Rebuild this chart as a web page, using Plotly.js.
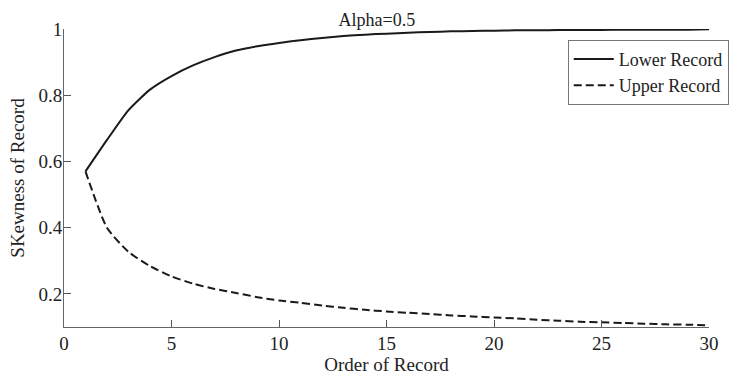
<!DOCTYPE html>
<html>
<head>
<meta charset="utf-8">
<script src="https://cdn.plot.ly/plotly-3.0.1.min.js"></script>
<style>
  html, body { margin: 0; padding: 0; background: #fff; }
  #chart { width: 733px; height: 377px; }
</style>
</head>
<body>
<div id="chart"></div>
<script>
// Record order (x) and skewness of lower / upper records for alpha = 0.5
const recordOrder = [1,2,3,4,5,6,7,8,9,10,11,12,13,14,15,16,17,18,19,20,21,22,23,24,25,26,27,28,29,30];
const lowerSkew = [0.570,0.665,0.755,0.817,0.858,0.890,0.915,0.935,0.948,0.958,
                   0.966,0.973,0.979,0.983,0.986,0.989,0.991,0.993,0.994,0.995,
                   0.996,0.996,0.997,0.997,0.997,0.998,0.998,0.998,0.998,0.999];
const upperSkew = [0.570,0.400,0.327,0.284,0.253,0.231,0.215,0.203,0.190,0.180,
                   0.173,0.165,0.158,0.152,0.147,0.143,0.139,0.135,0.132,0.129,
                   0.126,0.122,0.119,0.116,0.114,0.112,0.110,0.108,0.107,0.105];
const xTicks = [0,5,10,15,20,25,30];
const yTicks = [0.2,0.4,0.6,0.8,1];
const yTickText = ['0.2','0.4','0.6','0.8','1'];

const serif = 'Liberation Serif, serif';

const traces = [
  {
    x: recordOrder, y: lowerSkew, name: 'Lower Record',
    type: 'scatter', mode: 'lines',
    line: { color: '#1a1a1a', width: 2, shape: 'spline', smoothing: 0.6 }
  },
  {
    x: recordOrder, y: upperSkew, name: 'Upper Record',
    type: 'scatter', mode: 'lines',
    line: { color: '#1a1a1a', width: 2, dash: '8px,4px', shape: 'spline', smoothing: 0.6 }
  }
];

const axisCommon = {
  showline: true, linecolor: '#666', linewidth: 1,
  ticks: 'inside', ticklen: 7, tickcolor: '#555', tickwidth: 1,
  showgrid: false, zeroline: false, mirror: false,
  tickfont: { family: serif, size: 19, color: '#222' }
};

const layout = {
  width: 733, height: 377,
  margin: { l: 63.5, r: 23.7, t: 29.3, b: 50, autoexpand: false },
  paper_bgcolor: '#fff', plot_bgcolor: '#fff',
  font: { family: serif, color: '#222' },
  title: {
    text: 'Alpha=0.5',
    font: { family: serif, size: 18, color: '#222' },
    xref: 'paper', x: 0.485, xanchor: 'center',
    yref: 'container', y: 0.947, yanchor: 'middle'
  },
  xaxis: Object.assign({}, axisCommon, {
    range: [0, 30], tickvals: xTicks,
    ticklabelstandoff: -1,
    title: { text: 'Order of Record', font: { family: serif, size: 19, color: '#222' }, standoff: 2 }
  }),
  yaxis: Object.assign({}, axisCommon, {
    range: [0.1, 1], tickvals: yTicks, ticktext: yTickText,
    ticklabelstandoff: -3,
    title: { text: 'SKewness of Record', font: { family: serif, size: 19, color: '#222' }, standoff: 8 }
  }),
  showlegend: true,
  legend: {
    xref: 'paper', yref: 'paper',
    x: 0.781, y: 0.964, xanchor: 'left', yanchor: 'top',
    bgcolor: '#fff', bordercolor: '#777', borderwidth: 1,
    font: { family: serif, size: 18, color: '#222' },
    itemwidth: 40, tracegroupgap: 0
  }
};

Plotly.newPlot('chart', traces, layout, { displayModeBar: false, staticPlot: true });
</script>
</body>
</html>
